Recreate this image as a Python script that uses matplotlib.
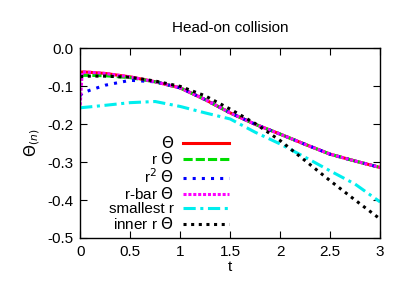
import matplotlib
matplotlib.use("Agg")
import matplotlib.pyplot as plt

# values
t = [0.0, 0.02, 0.1, 0.25, 0.5, 0.75, 1.0, 1.25, 1.5, 1.75, 2.0, 2.25, 2.5, 2.75, 3.0]
theta = [-0.063, -0.062, -0.063, -0.066, -0.075, -0.088, -0.104, -0.135, -0.170, -0.200, -0.226, -0.253, -0.279, -0.297, -0.314]
r_theta = [-0.072, -0.071, -0.071, -0.072, -0.077, -0.088, -0.104, -0.135, -0.170, -0.200, -0.226, -0.253, -0.279, -0.297, -0.314]
r2_theta = [-0.125, -0.118, -0.110, -0.097, -0.084, -0.088, -0.104, -0.135, -0.170, -0.200, -0.226, -0.253, -0.279, -0.297, -0.314]
rbar_theta = [-0.150, -0.062, -0.063, -0.066, -0.075, -0.088, -0.104, -0.135, -0.170, -0.200, -0.226, -0.253, -0.279, -0.297, -0.314]
smallest_r = [-0.157, -0.156, -0.154, -0.150, -0.143, -0.140, -0.153, -0.170, -0.186, -0.221, -0.252, -0.287, -0.323, -0.358, -0.405]
inner_r = [-0.075, -0.074, -0.073, -0.073, -0.076, -0.086, -0.100, -0.125, -0.160, -0.198, -0.243, -0.296, -0.349, -0.400, -0.450]

labels = [r"$\Theta$", r"r $\Theta$", r"r$^2$ $\Theta$", r"r-bar $\Theta$", "smallest r", r"inner r $\Theta$"]
series = [theta, r_theta, r2_theta, rbar_theta, smallest_r, inner_r]
colors = ["#ff0000", "#00dd00", "#0000ff", "#ff00ff", "#00eeee", "#000000"]
styles = ["-", (0, (3, 1)), (0, (1, 2)), (0, (1, 0.6)), (0, (4, 1.5, 1, 1.5)), (0, (1, 1.5))]

plt.rcParams["font.family"] = ["Liberation Sans", "DejaVu Sans"]
plt.rcParams["mathtext.fontset"] = "dejavusans"

fig = plt.figure(figsize=(4.07, 2.85), dpi=100)
ax = fig.add_axes([0.197, 0.165, 0.737, 0.665])

for ys, lab, c, ls in zip(series, labels, colors, styles):
    ax.plot(t, ys, color=c, linestyle=ls, lw=2.2, label=lab)

ax.set_xlim(0, 3)
ax.set_ylim(-0.5, 0.0)
ax.set_xticks([0, 0.5, 1, 1.5, 2, 2.5, 3])
ax.set_xticklabels(["0", "0.5", "1", "1.5", "2", "2.5", "3"])
ax.set_yticks([0, -0.1, -0.2, -0.3, -0.4, -0.5])
ax.set_yticklabels(["0.0", "-0.1", "-0.2", "-0.3", "-0.4", "-0.5"])
ax.tick_params(direction="in", top=True, right=True, labelsize=11, length=5, pad=5)
for s in ax.spines.values():
    s.set_linewidth(1.0)

ax.set_title("Head-on collision", fontsize=11, pad=12)
ax.set_xlabel("t", fontsize=11, labelpad=1)
ax.set_ylabel(r"$\Theta_{(n)}$", fontsize=11, labelpad=4)

ax.legend(loc="lower left", bbox_to_anchor=(0.06, -0.025), frameon=False, markerfirst=False,
          fontsize=11, handlelength=3.0, labelspacing=0.0, handletextpad=0.6, borderpad=0.2)

fig.savefig("out.png", dpi=100)
